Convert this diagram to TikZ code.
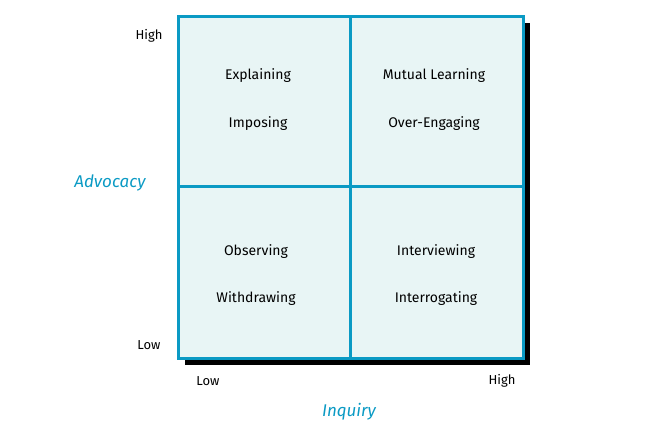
\documentclass[tikz,border=0pt]{standalone}
\usepackage{fontspec}
\setmainfont{Fira Sans}
\definecolor{bl}{HTML}{0A9AC4}
\definecolor{fl}{HTML}{E8F5F5}
\begin{document}
\begin{tikzpicture}[x=1pt,y=-1pt,
 cell/.style={font=\fontsize{14}{16}\selectfont},
 ax/.style={font=\fontsize{13}{15}\selectfont},
 ttl/.style={font=\fontsize{17}{19}\selectfont\itshape,text=bl}]
\useasboundingbox (0,0) rectangle (658,437);
\fill[black] (185,23) rectangle (530,365);
\fill[fl] (178,16) rectangle (523,358);
\draw[bl,line width=3pt] (178,16) rectangle (523,358);
\draw[bl,line width=3pt] (350,16) -- (350,358);
\draw[bl,line width=3pt] (178,186) -- (523,186);
\node[cell] (a1) at (258,76) {Explaining};
\node[cell] (a2) at (258,124) {Imposing};
\node[cell] (b1) at (434,76) {Mutual Learning};
\node[cell] (b2) at (434,124) {Over-Engaging};
\node[cell] (c1) at (256,252) {Observing};
\node[cell] (c2) at (256,299) {Withdrawing};
\node[cell] (d1) at (436,252) {Interviewing};
\node[cell] (d2) at (436,299) {Interrogating};
\node[ax] (hy) at (149,36) {High};
\node[ax] (ly) at (149,345) {Low};
\node[ax] (lx) at (208,381) {Low};
\node[ax] (hx) at (502,381) {High};
\node[ttl] (adv) at (110,183) {Advocacy};
\node[ttl] (inq) at (349,412) {Inquiry};
\end{tikzpicture}
\end{document}
